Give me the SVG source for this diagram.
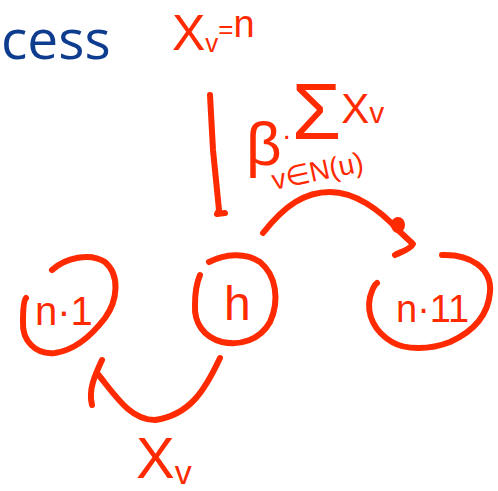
<svg xmlns="http://www.w3.org/2000/svg" width="498" height="491" viewBox="0 0 498 491">
<style>
.ink{fill:none;stroke:#ff2a00;stroke-width:6;stroke-linecap:round;stroke-linejoin:round}
.hw{fill:#ff2a00;font-family:"Liberation Sans","DejaVu Sans",sans-serif}
.title{fill:#0e3d8f;font-family:"Open Sans","Liberation Sans",sans-serif;font-size:55px}
</style>
<rect width="498" height="491" fill="#ffffff"/>
<text class="title" x="1" y="59">cess</text>
<g id="label-top">
<text class="hw" x="172" y="50" font-size="50">X<tspan font-size="26" dy="2">v</tspan><tspan font-size="26" dy="-14">=</tspan><tspan font-size="38" dy="-1">n</tspan></text>
</g>
<g id="label-sum">
<text class="hw" x="246" y="165" font-size="62">β<tspan font-size="30" dy="-20">·</tspan><tspan font-size="80" dy="-6">Σ</tspan><tspan font-size="42" dy="-16">X</tspan><tspan font-size="30">v</tspan></text>
<text class="hw" x="274" y="190" font-size="28" transform="rotate(-12 274 190)">v∈N(u)</text>
</g>
<g id="node-n-1">
<path class="ink" d="M52,270 C65,258 90,252 105,262 C120,275 118,300 105,318 C92,335 75,350 55,353 C35,355 22,340 23,322 C23,310 24,300 26,298"/>
<text class="hw" x="35" y="325" font-size="40">n·1</text>
</g>
<g id="node-n">
<path class="ink" d="M209,262 C225,254 245,252 260,262 C276,275 280,300 270,322 C260,340 240,346 222,342 C203,337 194,322 195,305 C195,292 197,282 200,275"/>
<text class="hw" x="224" y="320" font-size="48">h</text>
</g>
<g id="node-n1">
<path class="ink" d="M442,255 C470,254 492,268 490,292 C488,318 470,333 450,342 C430,350 405,350 392,342 C375,332 366,315 370,297 C372,290 374,285 377,283"/>
<text class="hw" x="396" y="322" font-size="38">n·11</text>
</g>
<g id="connectors">
<path class="ink" d="M210,95 L213,150 L219,210 L217,214 L225,213"/>
<path class="ink" d="M263,233 C285,205 305,192 330,192 C355,192 380,210 398,230 L413,244 C410,250 400,252 395,255"/>
<ellipse cx="398" cy="225" rx="7" ry="8" fill="#ff2a00"/>
<path class="ink" d="M220,358 C205,390 190,415 155,420 C130,420 115,395 97,373"/>
<path class="ink" d="M102,360 C95,375 88,390 92,405"/>
</g>
<g id="label-bottom">
<text class="hw" x="136" y="478" font-size="58">X<tspan font-size="34" dy="6">v</tspan></text>
</g>
</svg>
